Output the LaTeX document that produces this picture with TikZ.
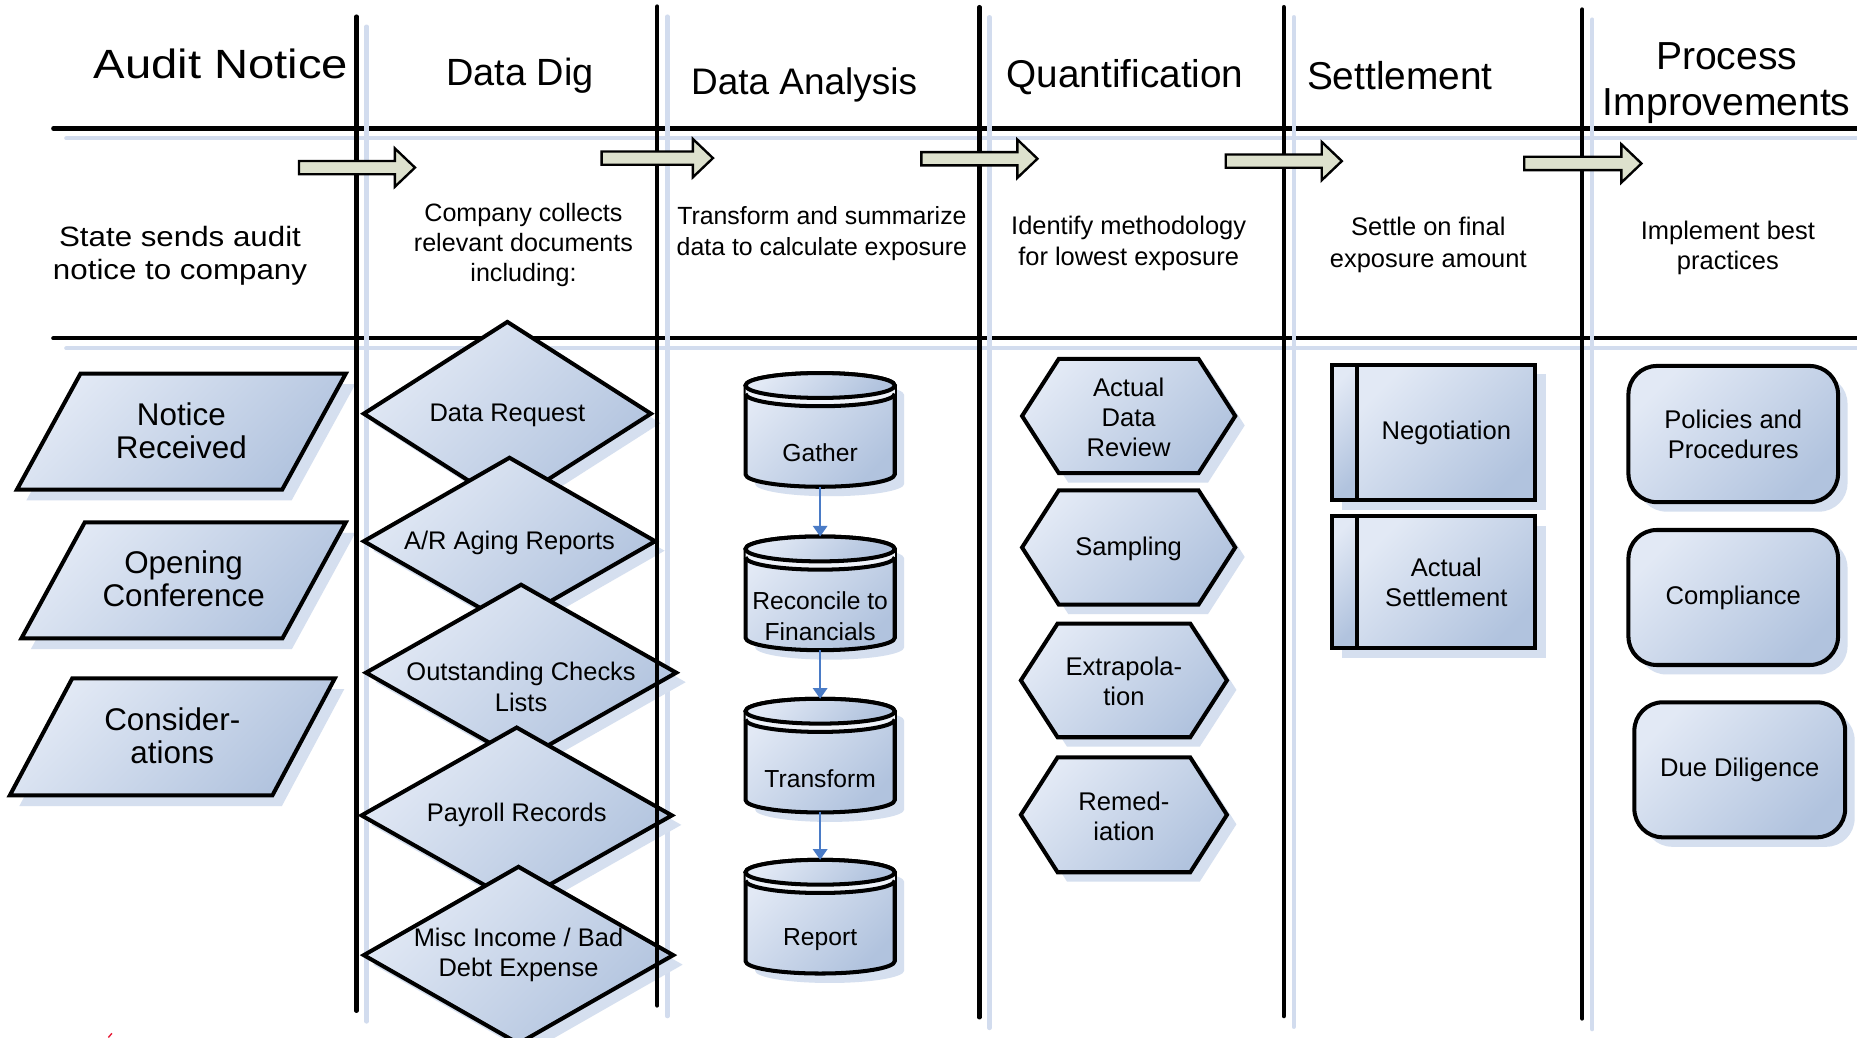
\documentclass[tikz,border=0pt]{standalone}
\usepackage{fontspec}
\setmainfont{Liberation Sans}
\usepackage{graphicx}
\usetikzlibrary{arrows.meta}
\definecolor{gradL}{HTML}{E2E9F5}
\definecolor{gradD}{HTML}{B1C3DE}
\definecolor{shadC}{HTML}{D5DFEF}
\definecolor{laneC}{HTML}{D2DCEE}
\definecolor{arrC}{HTML}{DDE1CD}
\definecolor{flowC}{HTML}{4A7BC6}
\definecolor{markC}{HTML}{E8213C}
\tikzset{
  shp/.style={draw=black, line width=3.4pt, line join=miter, top color=gradL, bottom color=gradD, shading angle=45},
  shd/.style={fill=shadC, draw=none},
  lane/.style={draw=black, line width=3.6pt, line cap=round},
  laneshd/.style={draw=laneC, line width=3.6pt, line cap=round},
  blk/.style={draw=black, line width=2pt, fill=arrC, line join=miter},
  flow/.style={draw=flowC, line width=2pt, -{Triangle[width=12pt,length=9pt]}},
  hd/.style={inner sep=0pt, anchor=base, font=\fontsize{32}{38}\selectfont},
  hdc/.style={inner sep=0pt, align=center, font=\fontsize{33}{39}\selectfont},
  desc/.style={inner sep=0pt, align=center, font=\fontsize{21.5}{26}\selectfont},
  ptxt/.style={inner sep=0pt, align=center, font=\fontsize{26.5}{28}\selectfont},
  dtxt/.style={inner sep=0pt, align=center, font=\fontsize{21.5}{25.5}\selectfont},
  ctxt/.style={inner sep=0pt, align=center, font=\fontsize{20.8}{26}\selectfont},
  htxt/.style={inner sep=0pt, align=center, font=\fontsize{21.6}{25.5}\selectfont},
  boxnode/.style={inner sep=0pt, outer sep=0pt, draw=none},
}
% parallelogram: name, xtl, xtr, xbl, ytop, ybot, text
\newcommand\ParaShape[7]{%
  \fill[shd] ({#2+8},{#5+9}) -- ({#3+8},{#5+9}) -- ({#4+#3-#2+8},{#6+9}) -- ({#4+8},{#6+9}) -- cycle;
  \path[shp] (#2,#5) -- (#3,#5) -- ({#4+#3-#2},#6) -- (#4,#6) -- cycle;
  \node[ptxt] (#1) at ({(#3+#4)/2},{(#5+#6)/2-1}) {#7};
}
% diamond: name, cx, cy, hw, hh, text y, text
\newcommand\DiamShape[7]{%
  \fill[shd] ({#2+8},{#3-#5+8}) -- ({#2+#4+8},{#3+8}) -- ({#2+8},{#3+#5+8}) -- ({#2-#4+8},{#3+8}) -- cycle;
  \path[shp] (#2,{#3-#5}) -- ({#2+#4},#3) -- (#2,{#3+#5}) -- ({#2-#4},#3) -- cycle;
  \node[dtxt] (#1) at (#2,#6) {#7};
}
% cylinder: name, cx, ytop, ybot, text
\newcommand\CylShape[5]{%
  \fill[shd] ({#2-63+8},{#3+10.5+8}) -- ({#2-63+8},{#4-10.5+8})
     arc[start angle=180,end angle=360,x radius=63pt,y radius=10.5pt]
     -- ({#2+63+8},{#3+10.5+8})
     arc[start angle=0,end angle=180,x radius=63pt,y radius=10.5pt] -- cycle;
  \path[shp] ({#2-63},{#3+10.5}) -- ({#2-63},{#4-10.5})
     arc[start angle=180,end angle=360,x radius=63pt,y radius=10.5pt]
     -- ({#2+63},{#3+10.5})
     arc[start angle=0,end angle=180,x radius=63pt,y radius=10.5pt] -- cycle;
  \fill[gradL!60!white] ({#2-63},{#3+10.5})
     arc[start angle=180,end angle=360,x radius=63pt,y radius=10.5pt]
     -- ({#2+63},{#3+17.5})
     arc[start angle=0,end angle=-180,x radius=63pt,y radius=10.5pt] -- cycle;
  \draw[line width=3.4pt] ({#2-63},{#3+17.5})
     arc[start angle=180,end angle=360,x radius=63pt,y radius=10.5pt];
  \path[shp] (#2,{#3+10.5}) ellipse [x radius=63pt, y radius=10.5pt];
  \node[boxnode, minimum width=126pt, minimum height={#4-#3}] (#1) at (#2,{(#3+#4)/2}) {};
  \node[ctxt] (#1t) at (#2,{#3+67.5}) {#5};
}
% hexagon: name, xl, xr, inset, ytop, ybot, text
\newcommand\HexShape[7]{%
  \fill[shd] ({#2+8},{(#5+#6)/2+8}) -- ({#2+#4+8},{#5+8}) -- ({#3-#4+8},{#5+8}) -- ({#3+8},{(#5+#6)/2+8}) -- ({#3-#4+8},{#6+8}) -- ({#2+#4+8},{#6+8}) -- cycle;
  \path[shp] (#2,{(#5+#6)/2}) -- ({#2+#4},#5) -- ({#3-#4},#5) -- (#3,{(#5+#6)/2}) -- ({#3-#4},#6) -- ({#2+#4},#6) -- cycle;
  \node[htxt] (#1) at ({(#2+#3)/2},{(#5+#6)/2+1}) {#7};
}
% banded rectangle: name, xl, xband, xr, ytop, ybot, text
\newcommand\BandShape[7]{%
  \fill[shd] ({#2+9},{#5+8}) rectangle ({#4+9},{#6+8});
  \path[shp] (#2,#5) rectangle (#3,#6);
  \path[shp] (#3,#5) rectangle (#4,#6);
  \node[htxt] (#1) at ({(#3+#4)/2},{(#5+#6)/2}) {#7};
}
% rounded rectangle: name, xl, xr, ytop, ybot, text
\newcommand\RndShape[6]{%
  \fill[shd, rounded corners=24pt] ({#2+8},{#4+8}) rectangle ({#3+8},{#5+8});
  \path[shp, rounded corners=24pt] (#2,#4) rectangle (#3,#5);
  \node[htxt] (#1) at ({(#2+#3)/2},{(#4+#5)/2}) {#6};
}
% block arrow: name, x0, x1, cy
\newcommand\BlkArrow[4]{%
  \path[blk] (#2,{#4-5.6}) -- ({#3-17},{#4-5.6}) -- ({#3-17},{#4-16.2}) -- (#3,#4)
     -- ({#3-17},{#4+16.2}) -- ({#3-17},{#4+5.6}) -- (#2,{#4+5.6}) -- cycle;
  \coordinate (#1) at ({(#2+#3)/2},#4);
}
\begin{document}
\begin{tikzpicture}[x=1pt,y=-1pt]
\useasboundingbox (0,0) rectangle (1568,876);
\clip (0,0) rectangle (1568,876);
\fill[white] (0,0) rectangle (1568,876);

% horizontal lane lines (under the shapes)
\draw[laneshd] (56,116.8) -- (1580,116.8);
\draw[laneshd] (56,294.1) -- (1580,294.1);
\draw[lane] (45,108.4) -- (1580,108.4);
\draw[lane] (45,285.7) -- (1580,285.7);
% vertical lane shadows
\foreach \x/\t/\b in {301/14/853.5, 555/5.5/849, 827/6/859, 1084/6/858, 1336/8/860}{
  \draw[laneshd] ({\x+8.5},{\t+8.5}) -- ({\x+8.5},{\b+9});
}

% Audit Notice column
\ParaShape{notice}{68}{292}{14.3}{315.4}{413.4}{Notice\\Received}
\ParaShape{opening}{71.6}{292}{18.1}{441}{539}{Opening\\Conference}
\ParaShape{consid}{61}{282.7}{8.3}{572.8}{671.6}{Consider-\\ations}

% Data Dig column
\DiamShape{datareq}{428.4}{349.3}{121.2}{77.5}{350.5}{Data Request}
\DiamShape{araging}{430.2}{457}{123}{70.5}{458}{A/R Aging Reports}
\DiamShape{outstand}{440}{568}{131}{74.3}{580}{Outstanding Checks\\Lists}
\DiamShape{payroll}{436.3}{688.5}{131}{74.2}{688}{Payroll Records}
\DiamShape{misc}{437.8}{806.5}{130.6}{74.6}{806.5}{Misc Income / Bad\\Debt Expense}

% Data Analysis column
\CylShape{gather}{692.5}{315}{411}{Gather}
\CylShape{recon}{692.5}{453}{549}{Reconcile to\\Financials}
\CylShape{transf}{692.5}{590}{686}{Transform}
\CylShape{report}{692.5}{726}{822}{Report}
\draw[flow] (gather.south) -- (recon.north);
\draw[flow] (recon.south) -- (transf.north);
\draw[flow] (transf.south) -- (report.north);

% Quantification column
\HexShape{actual}{863}{1043}{31}{303}{399.5}{Actual\\Data\\Review}
\HexShape{sampling}{863}{1043}{31}{414}{510.5}{Sampling}
\HexShape{extrap}{862}{1036}{31}{526.5}{622.5}{Extrapola-\\tion}
\HexShape{remed}{862}{1036}{31}{639.5}{736.5}{Remed-\\iation}

% Settlement column
\BandShape{negot}{1124.5}{1146}{1296.5}{308}{422.5}{Negotiation}
\BandShape{actset}{1124.5}{1146}{1296.5}{436}{547.5}{Actual\\Settlement}

% Process Improvements column
\RndShape{policies}{1375}{1552}{309}{424}{Policies and\\Procedures}
\RndShape{compliance}{1375}{1552}{447.5}{561.5}{Compliance}
\RndShape{duedil}{1380}{1558}{593}{707}{Due Diligence}

% vertical lane lines (over the shapes)
\foreach \x/\t/\b in {301/14/853.5, 555/5.5/849, 827/6/859, 1084/6/858, 1336/8/860}{
  \draw[lane] (\x,\t) -- (\x,\b);
}

% block arrows
\BlkArrow{arr1}{252.5}{350.4}{141.5}
\BlkArrow{arr2}{508}{602}{133.5}
\BlkArrow{arr3}{778}{876}{134}
\BlkArrow{arr4}{1035}{1133}{136}
\BlkArrow{arr5}{1287}{1386}{138}

% headings
\node[hd, font=\fontsize{34.5}{40}\selectfont] (hAudit) at (186.5,66) {\scalebox{1.155}[1]{Audit Notice}};
\node[hd] (hDig) at (439,72.5) {Data Dig};
\node[hd, font=\fontsize{31.2}{38}\selectfont] (hAna) at (679,80) {Data Analysis};
\node[hd, font=\fontsize{32.7}{38}\selectfont] (hQua) at (950,74) {Quantification};
\node[hd, font=\fontsize{32.8}{38}\selectfont] (hSet) at (1182,75.5) {Settlement};
\node[hdc] (hPro) at (1458,70.5) {Process\\Improvements};

% descriptions
\node[desc, font=\fontsize{23.6}{28}\selectfont] (dAudit) at (152,216)
  {\scalebox{1.12}[1]{State sends audit}\\\scalebox{1.12}[1]{notice to company}};
\node[desc, font=\fontsize{21.2}{25.5}\selectfont] (dDig) at (442,207) {Company collects\\relevant documents\\including:};
\node[desc, font=\fontsize{21}{26}\selectfont] (dAna) at (694,197.5) {Transform and summarize\\data to calculate exposure};
\node[desc] (dQua) at (953,205.5) {Identify methodology\\for lowest exposure};
\node[desc, font=\fontsize{21.5}{27}\selectfont] (dSet) at (1206,207) {Settle on final\\exposure amount};
\node[desc] (dPro) at (1459,209.3) {Implement best\\practices};

% small red mark at the bottom edge
\draw[markC, line width=1.2pt] (91.5,876) -- (94.5,872.5);
\end{tikzpicture}
\end{document}
